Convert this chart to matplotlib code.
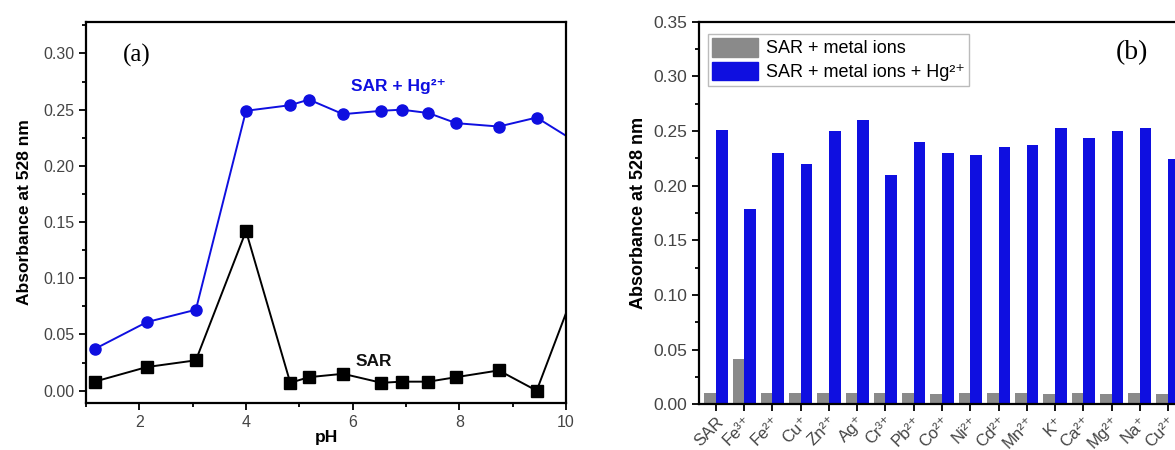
import matplotlib
matplotlib.use("Agg")
import matplotlib.pyplot as plt
from matplotlib.ticker import MultipleLocator, FixedLocator, FormatStrFormatter
from matplotlib.patches import Patch

# ---------------- data ----------------
ph = [1.16, 2.14, 3.06, 4.0, 4.83, 5.18, 5.82, 6.54, 6.92, 7.42, 7.94, 8.74, 9.45, 10.4]
sar_hg = [0.037, 0.061, 0.072, 0.249, 0.254, 0.259, 0.246, 0.249, 0.250, 0.247, 0.238, 0.235, 0.243, 0.215]
sar = [0.008, 0.021, 0.027, 0.142, 0.007, 0.012, 0.015, 0.007, 0.008, 0.008, 0.012, 0.018, 0.000, 0.119]

ions = ["SAR", "Fe³⁺", "Fe²⁺", "Cu⁺", "Zn²⁺", "Ag⁺", "Cr³⁺", "Pb²⁺", "Co²⁺", "Ni²⁺",
        "Cd²⁺", "Mn²⁺", "K⁺", "Ca²⁺", "Mg²⁺", "Na⁺", "Cu²⁺"]
metal_only = [0.0107, 0.041, 0.0107, 0.0101, 0.0107, 0.0101, 0.0107, 0.0101, 0.0092,
              0.0101, 0.0101, 0.0101, 0.0092, 0.0101, 0.0092, 0.0101, 0.0092]
metal_hg = [0.251, 0.179, 0.230, 0.220, 0.250, 0.260, 0.210, 0.240, 0.230, 0.228,
            0.235, 0.237, 0.253, 0.244, 0.250, 0.253, 0.224]

series_labels = ["SAR + metal ions", "SAR + metal ions + Hg²⁺"]

# ---------------- style ----------------
FAM = ['Liberation Sans', 'DejaVu Sans']
plt.rcParams['font.family'] = FAM
BLUE = '#0f0fe0'
GRAY = '#8a8a8a'
TICKC = '#444444'

fig = plt.figure(figsize=(11.75, 4.5), dpi=100)

# ---------------- panel (a) ----------------
ax1 = fig.add_axes([0.0732, 0.1044, 0.4085, 0.8467])
ax1.plot(ph, sar_hg, color=BLUE, marker='o', ms=8, lw=1.4)
ax1.plot(ph, sar, color='black', marker='s', ms=8, lw=1.4)
ax1.set_xlim(1.0, 10.0)
ax1.set_ylim(-0.011, 0.328)
ax1.xaxis.set_major_locator(FixedLocator([2, 4, 6, 8, 10]))
ax1.xaxis.set_minor_locator(FixedLocator([1, 3, 5, 7, 9]))
ax1.yaxis.set_major_locator(MultipleLocator(0.05))
ax1.yaxis.set_minor_locator(MultipleLocator(0.025))
ax1.yaxis.set_major_formatter(FormatStrFormatter('%.2f'))
ax1.tick_params(which='both', direction='out', width=1.3, colors='black', labelcolor=TICKC, labelsize=11.5)
ax1.tick_params(which='major', length=5)
ax1.tick_params(which='minor', length=3)
for s in ax1.spines.values():
    s.set_linewidth(1.6)
ax1.set_ylabel('Absorbance at 528 nm', fontsize=12.5, fontweight='bold', labelpad=8)
ax1.set_xlabel('pH', fontsize=12.5, fontweight='bold', labelpad=0)
ax1.text(1.7, 0.298, '(a)', family='Liberation Serif', fontsize=18, ha='left', va='center')
ax1.text(6.85, 0.271, 'SAR + Hg²⁺', color=BLUE, fontsize=12.5, fontweight='bold',
         ha='center', va='center', family=FAM)
ax1.text(6.4, 0.026, 'SAR', color='#111111', fontsize=12.5, fontweight='bold', ha='center', va='center')

# ---------------- panel (b) ----------------
ax2 = fig.add_axes([0.5949, 0.1016, 0.4184, 0.8502])
x = list(range(len(ions)))
w = 0.41
ax2.bar([i - w / 2 for i in x], metal_only, width=w, color=GRAY, label=series_labels[0])
ax2.bar([i + w / 2 for i in x], metal_hg, width=w, color=BLUE, label=series_labels[1])
ax2.set_xlim(-0.6, 16.8)
ax2.set_ylim(0, 0.35)
ax2.set_xticks(x)
ax2.set_xticklabels(ions, rotation=45, ha='right', rotation_mode='anchor', fontsize=12, color=TICKC)
ax2.yaxis.set_major_locator(MultipleLocator(0.05))
ax2.yaxis.set_minor_locator(MultipleLocator(0.025))
ax2.yaxis.set_major_formatter(FormatStrFormatter('%.2f'))
ax2.tick_params(which='both', direction='out', width=1.3, colors='black', labelcolor=TICKC)
ax2.tick_params(axis='y', labelsize=12.5)
ax2.tick_params(which='major', length=5)
ax2.tick_params(which='minor', length=3)
ax2.tick_params(axis='x', pad=2)
for s in ax2.spines.values():
    s.set_linewidth(1.6)
ax2.set_ylabel('Absorbance at 528 nm', fontsize=13, fontweight='bold')
ax2.yaxis.set_label_coords(-0.105, 0.5)
ax2.text(14.15, 0.322, '(b)', family='Liberation Serif', fontsize=20, ha='left', va='center')
leg = ax2.legend(handles=[Patch(color=GRAY, label=series_labels[0]),
                          Patch(color=BLUE, label=series_labels[1])],
                 loc='upper left', bbox_to_anchor=(0.018, 0.969), fontsize=13,
                 frameon=True, fancybox=False, edgecolor='#aaaaaa', handlelength=2.5,
                 handleheight=1.2, borderpad=0.25, labelspacing=0.25, handletextpad=0.45,
                 borderaxespad=0.0)
leg.get_frame().set_linewidth(1.0)

fig.savefig('out.png', dpi=100)
